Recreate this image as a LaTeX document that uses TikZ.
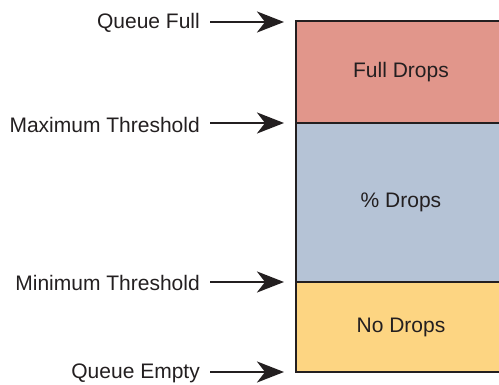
\documentclass[tikz,border=0pt]{standalone}
\usepackage{fontspec}
\setmainfont{Liberation Sans}
\usetikzlibrary{arrows.meta}
\definecolor{fullred}{HTML}{E1968B}
\definecolor{midblue}{HTML}{B5C3D6}
\definecolor{lowyellow}{HTML}{FDD582}
\definecolor{ink}{HTML}{231F20}
\begin{document}
\begin{tikzpicture}[x=1pt,y=-1pt,
  lbl/.style={anchor=east,inner sep=0pt,font=\fontsize{21}{24}\selectfont,text=ink},
  band/.style={draw=ink,line width=2.6pt,minimum width=210pt,inner sep=0pt,font=\fontsize{21}{24}\selectfont,text=ink},
  arr/.style={draw=ink,line width=2.8pt,-{Stealth[length=27pt,width=21pt,inset=8pt]}}]
\useasboundingbox (0,0) rectangle (499,385);
\node[band,fill=lowyellow,minimum height=90pt] (no) at (401,327) {No Drops};
\node[band,fill=midblue,minimum height=159pt] (pct) at (401,202.5) {\% Drops};
\node[band,fill=fullred,minimum height=102pt] (full) at (401,72) {Full Drops};
\node[lbl] (qf) at (200,23) {Queue Full};
\node[lbl] (maxt) at (200,125) {Maximum Threshold};
\node[lbl] (mint) at (200,283) {Minimum Threshold};
\node[lbl] (qe) at (200,373) {Queue Empty};
\coordinate (tqf) at (284,22);
\coordinate (tmax) at (284,123);
\coordinate (tmin) at (284,282);
\coordinate (tqe) at (284,372);
\draw[arr] ([xshift=10pt]qf.east |- tqf) -- (tqf);
\draw[arr] ([xshift=10pt]maxt.east |- tmax) -- (tmax);
\draw[arr] ([xshift=10pt]mint.east |- tmin) -- (tmin);
\draw[arr] ([xshift=10pt]qe.east |- tqe) -- (tqe);
\end{tikzpicture}
\end{document}
